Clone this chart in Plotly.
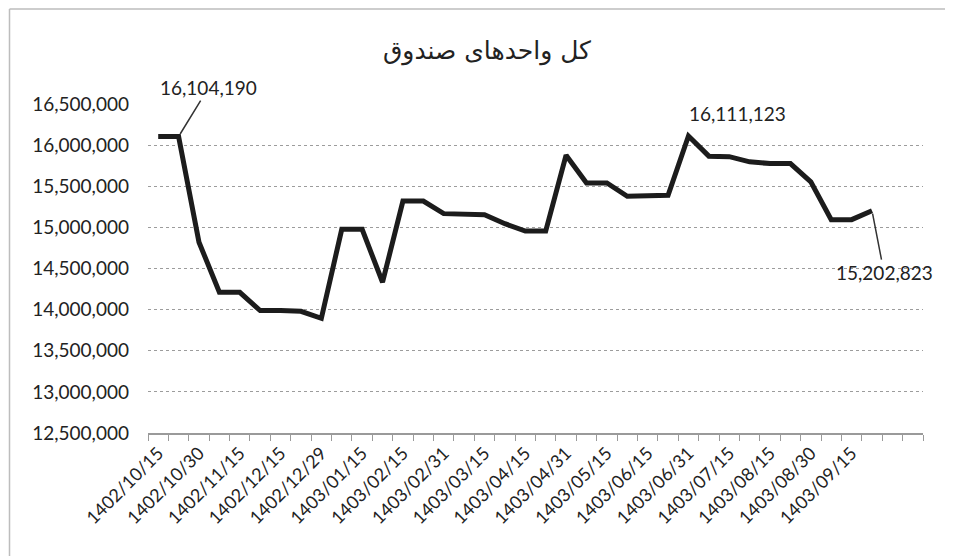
import plotly.graph_objects as go

# ---- data ----
tick_labels = ["1402/10/15", "1402/10/30", "1402/11/15", "1402/12/15", "1402/12/29",
               "1403/01/15", "1403/02/15", "1403/02/31", "1403/03/15", "1403/04/15",
               "1403/04/31", "1403/05/15", "1403/06/15", "1403/06/31", "1403/07/15",
               "1403/08/15", "1403/08/30", "1403/09/15"]
values = [16104190, 16104190, 14820000, 14211000, 14211000, 13988000, 13988000,
          13980000, 13894000, 14976000, 14976000, 14333000, 15320000, 15320000,
          15167000, 15155000, 15155000, 15045000, 14955000, 14955000, 15878000,
          15540000, 15540000, 15378000, 15390000, 15390000, 16111123, 15866000,
          15860000, 15797000, 15776000, 15776000, 15553000, 15094000, 15094000,
          15202823]
n_categories = 38
title_text = "کل واحدهای صندوق"

x_idx = list(range(len(values)))
tick_pos = [2 * i for i in range(len(tick_labels))]

FONT = "Lato, 'Open Sans', sans-serif"
TXT = "#222222"

# page has an 8px body margin: figure coordinates = page coordinates - 8
W, H = 945, 550
L, R, T, B = 140, 30, 96, 125
PW, PH = W - L - R, H - T - B

fig = go.Figure()
fig.add_trace(go.Scatter(
    x=x_idx, y=values, mode="lines",
    line=dict(color="#1c1c1c", width=5, shape="linear"),
    hoverinfo="skip", showlegend=False,
))

fig.update_layout(
    width=W, height=H,
    margin=dict(l=L, r=R, t=T, b=B, autoexpand=False),
    paper_bgcolor="white", plot_bgcolor="white",
    title=dict(text=title_text, x=479 / W, xref="container", xanchor="center",
               y=1 - 42 / H, yref="container", yanchor="middle",
               font=dict(family="DejaVu Sans", size=25, color=TXT)),
    font=dict(family=FONT, color=TXT),
)

fig.update_xaxes(
    range=[-0.5, n_categories - 0.5],
    tickmode="array", tickvals=tick_pos, ticktext=tick_labels,
    tickangle=-45, tickfont=dict(family=FONT, size=18, color=TXT),
    ticks="", showgrid=False, zeroline=False,
    showline=True, linecolor="#9a9a9a", linewidth=1.5,
    ticklabelstandoff=1,
    minor=dict(tick0=-0.5, dtick=1, ticks="outside", ticklen=6,
               tickcolor="#9a9a9a", tickwidth=1.2, showgrid=False),
)
fig.update_yaxes(
    range=[12500000, 16500000],
    tickmode="array",
    tickvals=[12500000 + 500000 * i for i in range(9)],
    ticktext=[f"{12500000 + 500000 * i:,}" for i in range(9)],
    tickfont=dict(family=FONT, size=19, color=TXT),
    showgrid=True, gridcolor="#9c9c9c", gridwidth=1, griddash="dot",
    zeroline=False, showline=False, ticks="",
    ticklabelstandoff=18,
)

ann_font = dict(family=FONT, size=19, color=TXT)
fig.add_annotation(x=1, y=values[1], text=f"{values[1]:,}", showarrow=True,
                   arrowhead=0, arrowwidth=1.5, arrowcolor="#333",
                   ax=30, ay=-49, font=ann_font, standoff=3)
fig.add_annotation(x=26, y=values[26], text=f"{values[26]:,}", showarrow=False,
                   xshift=49, yshift=22, font=ann_font)
fig.add_annotation(x=35, y=values[35], text=f"{values[35]:,}", showarrow=True,
                   arrowhead=0, arrowwidth=1.5, arrowcolor="#333",
                   ax=12, ay=62, font=ann_font, standoff=3)

# outer chart frame (top and left edges visible)
fx0 = (1.5 - L) / PW
fy_top = (H - B - 1) / PH
fy_bot = (H - B - 548) / PH
fig.add_shape(type="line", xref="paper", yref="paper",
              x0=fx0, x1=(W - L) / PW, y0=fy_top, y1=fy_top,
              line=dict(color="#bdbdbd", width=1.5))
fig.add_shape(type="line", xref="paper", yref="paper",
              x0=fx0, x1=fx0, y0=fy_top, y1=fy_bot,
              line=dict(color="#bdbdbd", width=1.5))

fig.write_html("out.html")
